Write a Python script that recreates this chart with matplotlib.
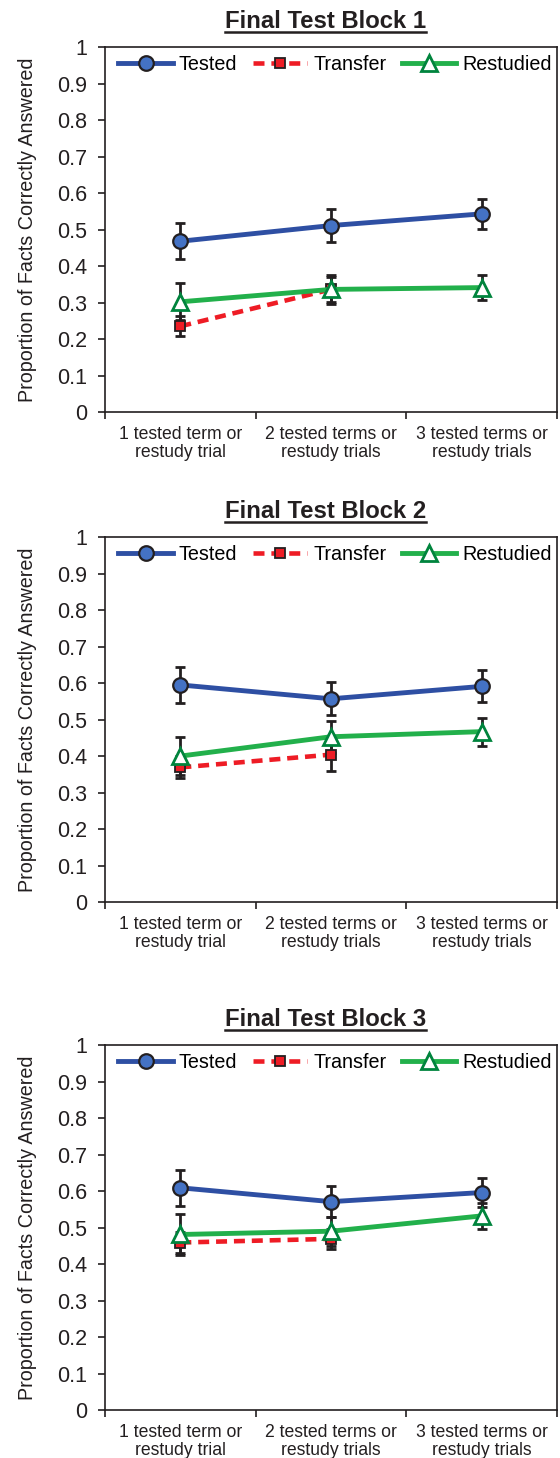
import matplotlib.pyplot as plt
from matplotlib.lines import Line2D
import numpy as np

plt.rcParams['font.family'] = ['Liberation Sans', 'DejaVu Sans']

# 数据：三个测试区块，每个条件三个水平
categories = ['1 tested term or\nrestudy trial',
              '2 tested terms or\nrestudy trials',
              '3 tested terms or\nrestudy trials']
block_titles = ['Final Test Block 1', 'Final Test Block 2', 'Final Test Block 3']

tested = [[0.468, 0.511, 0.543],
          [0.595, 0.557, 0.591],
          [0.609, 0.571, 0.596]]
tested_err = [[0.050, 0.045, 0.042],
              [0.049, 0.045, 0.044],
              [0.049, 0.043, 0.039]]

transfer = [[0.235, 0.336],
            [0.369, 0.404],
            [0.459, 0.469]]
transfer_err = [[0.027, 0.040],
                [0.030, 0.045],
                [0.030, 0.027]]

restudied = [[0.302, 0.336, 0.341],
             [0.400, 0.453, 0.467],
             [0.481, 0.490, 0.532]]
restudied_err = [[0.051, 0.035, 0.034],
                 [0.052, 0.044, 0.038],
                 [0.055, 0.040, 0.036]]

ink = '#231F20'

fig = plt.figure(figsize=(5.6, 14.58), dpi=100)
bottoms = [0.7174, 0.3813, 0.0329]
axes = []

for i in range(3):
    ax = fig.add_axes([0.1875, bottoms[i], 0.807, 0.2503])
    axes.append(ax)
    x3 = np.arange(3)
    x2 = np.arange(2)

    # 误差线
    ax.errorbar(x3, tested[i], yerr=tested_err[i], fmt='none', ecolor=ink,
                elinewidth=2.0, capsize=3.6, capthick=2.0, zorder=2)
    ax.errorbar(x2, transfer[i], yerr=transfer_err[i], fmt='none', ecolor=ink,
                elinewidth=2.0, capsize=3.6, capthick=2.0, zorder=2)
    ax.errorbar(x3, restudied[i], yerr=restudied_err[i], fmt='none', ecolor=ink,
                elinewidth=2.0, capsize=3.6, capthick=2.0, zorder=2)

    # 折线
    ax.plot(x3, tested[i], color='#2E4FA3', lw=3.5, marker='o', ms=10.5,
            mfc='#4472C4', mec=ink, mew=1.6, label='Tested', zorder=3)
    ax.plot(x2, transfer[i], color='#EE1C25', lw=3.3, ls=(0, (2.4, 1.5)),
            marker='s', ms=6.5, mfc='#EE1C25', mec=ink, mew=1.3,
            label='Transfer', zorder=4)
    ax.plot(x3, restudied[i], color='#22B04B', lw=3.5, marker='^', ms=11,
            mfc='white', mec='#00843D', mew=2.0, label='Restudied', zorder=5)

    ax.set_xlim(-0.5, 2.5)
    ax.set_ylim(0, 1)
    ax.set_yticks(np.arange(0, 1.01, 0.1))
    ax.set_yticklabels(['0'] + ['%.1f' % v for v in np.arange(0.1, 0.95, 0.1)] + ['1'])
    ax.set_xticks([-0.5, 0.5, 1.5, 2.5])
    ax.set_xticklabels([])
    ax.set_xticks(x3, minor=True)
    ax.set_xticklabels(categories, minor=True, fontsize=12.7, color=ink,
                       linespacing=1.05)
    ax.tick_params(axis='x', which='minor', length=0, pad=10)
    ax.tick_params(axis='x', which='major', length=5, width=1.2, color=ink)
    ax.tick_params(axis='y', length=5, width=1.2, color=ink, labelsize=15.5,
                   labelcolor=ink, pad=8)
    for s in ax.spines.values():
        s.set_color(ink)
        s.set_linewidth(1.2)

    ax.set_ylabel('Proportion of Facts Correctly Answered', fontsize=14.2,
                  color=ink, labelpad=14)

    ax.legend(loc='upper center', bbox_to_anchor=(0.509, 1.012), ncol=3,
              frameon=False, fontsize=14.2, handlelength=2.75,
              columnspacing=0.8, handletextpad=0.3, borderaxespad=0.2)

    ax.set_title(block_titles[i], fontsize=17.2, fontweight='bold', color=ink,
                 pad=14, x=0.488)

# 标题下划线
fig.canvas.draw()
renderer = fig.canvas.get_renderer()
for ax in axes:
    bb = ax.title.get_window_extent(renderer)
    y = bb.y0 + 1
    fig.add_artist(Line2D([bb.x0 / fig.bbox.width, bb.x1 / fig.bbox.width],
                          [y / fig.bbox.height, y / fig.bbox.height],
                          color=ink, lw=1.8))

fig.savefig('out.png', dpi=100)
